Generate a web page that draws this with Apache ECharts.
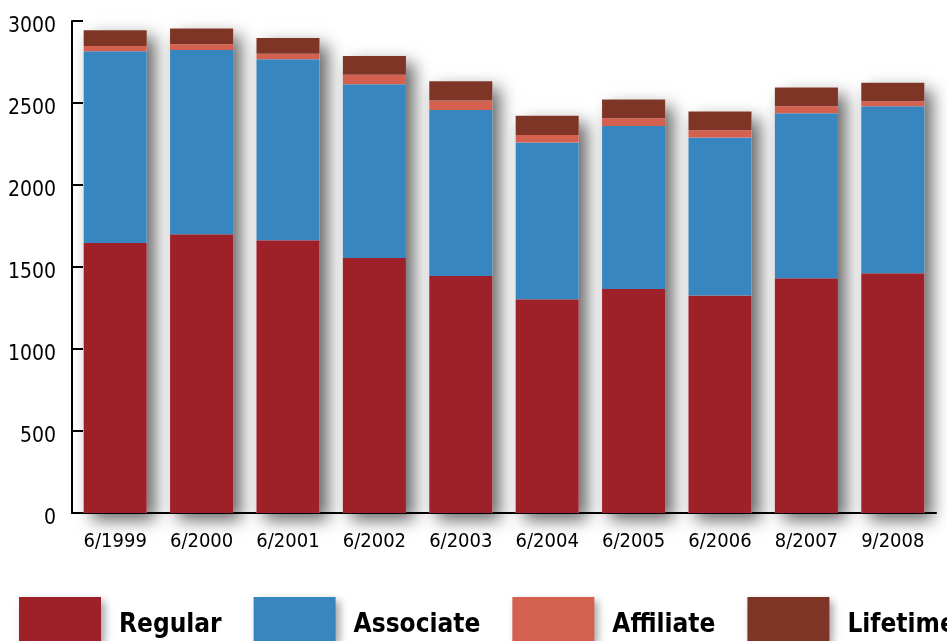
<!DOCTYPE html>
<html>
<head>
<meta charset="utf-8">
<script src="https://cdn.jsdelivr.net/npm/echarts@6/dist/echarts.min.js"></script>
<style>
html,body{margin:0;padding:0;background:#fff;}
#chart{width:947px;height:641px;}
</style>
</head>
<body>
<div id="chart"></div>
<script>
var categories = ['6/1999','6/2000','6/2001','6/2002','6/2003','6/2004','6/2005','6/2006','8/2007','9/2008'];
var regular   = [1646, 1699, 1663, 1555, 1445, 1303, 1366, 1326, 1431, 1462];
var associate = [1169, 1124, 1104, 1059, 1012,  956,  994,  963, 1006, 1018];
var affiliate = [  33,   35,   34,   59,   58,   46,   47,   45,   43,   30];
var lifetime  = [  95,   96,   95,  114,  117,  118,  114,  114,  114,  114];
var yTicks = [0, 500, 1000, 1500, 2000, 2500, 3000];

var seriesNames = ['Regular','Associate','Affiliate','Lifetime'];
var colors = ['#9E2129','#3886BF','#D46150','#7E3526'];
var totals = categories.map(function(c, i){ return regular[i] + associate[i] + affiliate[i] + lifetime[i]; });

var FONT = '"DejaVu Sans Condensed", "Liberation Sans Narrow", sans-serif';

var chart = echarts.init(document.getElementById('chart'), null, {renderer: 'canvas'});

function stackSeries(name, data, color){
  return {
    name: name,
    type: 'bar',
    stack: 'total',
    data: data,
    barGap: '-100%',
    barCategoryGap: '27%',
    itemStyle: { color: color },
    z: 3
  };
}

chart.setOption({
  animation: false,
  backgroundColor: '#ffffff',
  grid: { left: 72, right: 11, top: 21, bottom: 128, containLabel: false, outerBoundsMode: 'none' },
  legend: {
    data: seriesNames,
    left: 19,
    top: 597,
    width: 1400,
    padding: 0,
    itemWidth: 82,
    itemHeight: 44,
    itemGap: 32,
    icon: 'rect',
    itemStyle: { shadowBlur: 8, shadowColor: 'rgba(0,0,0,0.35)', shadowOffsetX: 4, shadowOffsetY: 4 },
    formatter: function(name){ return '{t|' + name + '}'; },
    textStyle: {
      fontFamily: FONT, fontWeight: 'bold', fontSize: 26, color: '#000', padding: [0,0,0,13],
      rich: { t: { fontFamily: FONT, fontWeight: 'bold', fontSize: 26, color: '#000', padding: [12,0,0,0] } }
    }
  },
  xAxis: {
    type: 'category',
    data: categories,
    axisLine: { lineStyle: { color: '#000', width: 2 } },
    axisTick: { inside: true, length: 12, lineStyle: { color: '#000', width: 2 } },
    axisLabel: { interval: 0, fontFamily: FONT, fontSize: 20, color: '#000', margin: 19 }
  },
  yAxis: {
    type: 'value',
    min: 0, max: 3000, interval: 500,
    splitLine: { show: false },
    axisLine: { show: true, lineStyle: { color: '#000', width: 2 } },
    axisTick: { show: true, inside: true, length: 11, lineStyle: { color: '#000', width: 2 } },
    axisLabel: {
      fontFamily: FONT, fontSize: 21, color: '#000', margin: 16,
      formatter: function(v){ return yTicks.indexOf(v) >= 0 ? '{n|' + v + '}' : ''; },
      rich: { n: { fontFamily: FONT, fontSize: 21, color: '#000', padding: [12,0,0,0] } }
    }
  },
  series: [
    {
      name: 'shadow',
      type: 'bar',
      data: totals,
      barGap: '-100%',
      barCategoryGap: '27%',
      silent: true,
      z: 1,
      itemStyle: {
        color: '#ffffff',
        shadowBlur: 16,
        shadowColor: 'rgba(0,0,0,0.6)',
        shadowOffsetX: 8,
        shadowOffsetY: 7
      }
    },
    stackSeries('Regular', regular, colors[0]),
    stackSeries('Associate', associate, colors[1]),
    stackSeries('Affiliate', affiliate, colors[2]),
    stackSeries('Lifetime', lifetime, colors[3])
  ]
});
</script>
</body>
</html>
